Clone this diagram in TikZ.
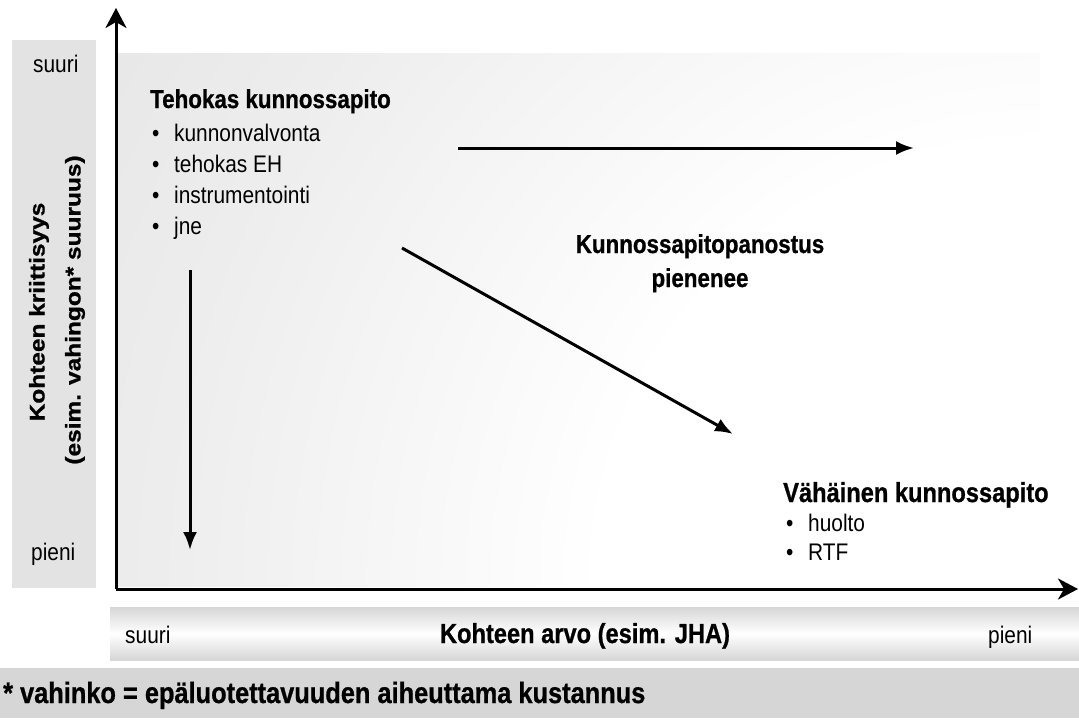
\documentclass[tikz,border=0pt]{standalone}
\usepackage{fontspec}
\usepackage{graphicx}
\setmainfont{Liberation Sans}
\newfontfamily\narrowsans[FakeStretch=0.86,BoldFeatures={FakeBold=0.8}]{Liberation Sans}
\newfontfamily\itemsans[FakeStretch=0.87]{Liberation Sans}
\usepackage{tikz}
\usetikzlibrary {positioning}
\usetikzlibrary{arrows.meta}
\tikzset{trend/.style = {-{Latex[length=18pt,width=14pt]}, line width=3pt}}
\tikzset{axis/.style = {-{Stealth[length=20pt,width=21pt,inset=6pt]}, line width=3pt}}
\pgfdeclareradialshading{whitecorner}{\pgfpoint{0bp}{0bp}}{color(0bp)=(white); color(10bp)=(white); color(20bp)=(black!7); color(28bp)=(black!11); color(50bp)=(black!17)}
\newcommand{\bul}{\makebox[22pt][l]{•}}
\newcommand{\squash}[1]{\scalebox{1}[0.87]{#1}}

\begin{document}
\begin{tikzpicture}[x=1pt,y=-1pt,
    heading/.style={font=\narrowsans\bfseries\fontsize{26}{30}\selectfont,inner sep=0pt,anchor=base west},
    item/.style={font=\itemsans\fontsize{24}{28}\selectfont,inner sep=0pt,anchor=base west},
    sidelabel/.style={font=\narrowsans\bfseries\fontsize{24.5}{28}\selectfont,inner sep=0pt,rotate=90}]
            \useasboundingbox (0,0) rectangle (1079,720);

            % backgrounds
            \fill[black!11] (12,40) rectangle (96,588);
            \begin{scope}
                \clip (118,53) rectangle (1040,586);
                \shade[shading=whitecorner] (1040,586) circle (1100);
            \end{scope}
            \shade[top color=black!16, bottom color=black!16, middle color=white] (110,607) rectangle (1079,660);
            \fill[black!16] (0,668) rectangle (1079,718);

            % axes
            \coordinate (origin) at (116,589);
            \coordinate (ytop) at (116,8);
            \coordinate (xend) at (1078,589);
            \draw[axis] (origin) -- (ytop);
            \draw[axis] (origin) -- (xend);

            \node[item] (ybig) at (33,72) {suuri};
            \node[item] (ysmall) at (31,560) {pieni};
            \node[sidelabel] (ytitle) at (39,312) {\scalebox{1.16}[1]{\squash{Kohteen kriittisyys}}};
            \node[sidelabel] (ysub) at (75,310) {\scalebox{1.16}[1]{\squash{(esim. vahingon* suuruus)}}};

            \node[item] (xbig) at (125,643) {suuri};
            \node[heading,anchor=base,font=\narrowsans\bfseries\fontsize{27.5}{32}\selectfont] (xtitle) at (585,643) {Kohteen arvo (esim. JHA)};
            \node[item] (xsmall) at (988,643) {pieni};

            % upper left corner
            \node[heading] (teho) at (150,108) {Tehokas kunnossapito};
            \node[item] (teho1) at (152,141) {\bul kunnonvalvonta};
            \node[item] (teho2) at (152,172) {\bul tehokas EH};
            \node[item] (teho3) at (152,203) {\bul instrumentointi};
            \node[item] (teho4) at (152,234) {\bul jne};

            % lower right corner
            \node[heading,font=\narrowsans\bfseries\fontsize{27.5}{32}\selectfont] (vaha) at (783,502) {Vähäinen kunnossapito};
            \node[item] (vaha1) at (786,531) {\bul huolto};
            \node[item] (vaha2) at (786,560) {\bul RTF};

            \node[heading,anchor=base] (panos) at (700,253) {Kunnossapitopanostus};
            \node[heading,anchor=base] (pien) at (700,287) {pienenee};

            \coordinate (h1) at (458,148);
            \coordinate (h2) at (914,148);
            \coordinate (d1) at (402,248);
            \coordinate (d2) at (733,434);
            \coordinate (v1) at (190,270);
            \coordinate (v2) at (190,550);
            \draw[trend] (h1) -- (h2);
            \draw[trend] (d1) -- (d2);
            \draw[trend] (v1) -- (v2);

            \node[heading,font=\narrowsans\bfseries\fontsize{29.5}{34}\selectfont] (note) at (3,703) {* vahinko = epäluotettavuuden aiheuttama kustannus};

        \end{tikzpicture}
\end{document}
